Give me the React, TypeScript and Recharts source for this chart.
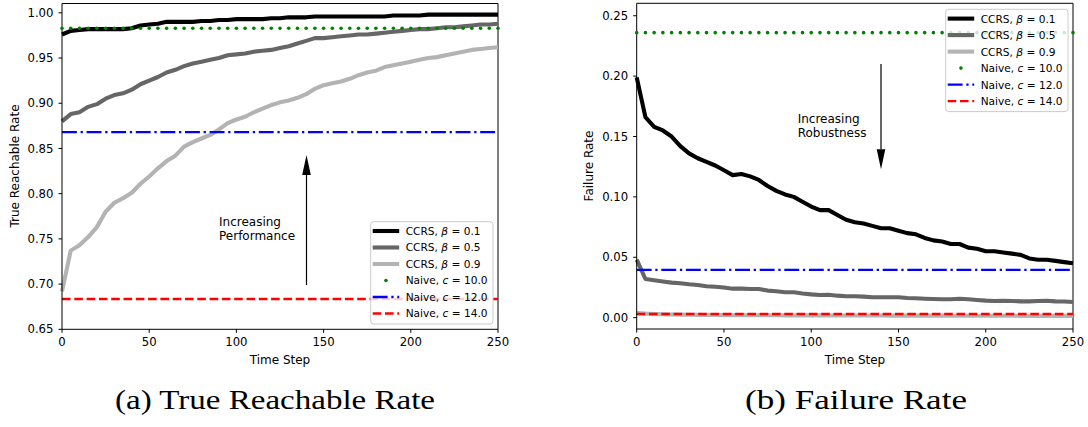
import { LineChart, Line, XAxis, YAxis, ReferenceLine } from "recharts";

const FONT = "'DejaVu Sans', sans-serif";

// time axis, sampled every 5 steps
const timeSteps = [
  0, 5, 10, 15, 20, 25, 30, 35, 40, 45, 50, 55, 60, 65, 70, 75, 80, 85, 90, 95,
  100, 105, 110, 115, 120, 125, 130, 135, 140, 145, 150, 155, 160, 165, 170, 175,
  180, 185, 190, 195, 200, 205, 210, 215, 220, 225, 230, 235, 240, 245, 250,
];
const xTicks = [0, 50, 100, 150, 200, 250];

// (a) true reachable rate
const reachBeta01 = [
  0.976, 0.98, 0.981, 0.982, 0.982, 0.982, 0.982, 0.982, 0.983, 0.986,
  0.987, 0.988, 0.99, 0.99, 0.99, 0.99, 0.991, 0.991, 0.992, 0.992,
  0.993, 0.993, 0.993, 0.993, 0.994, 0.994, 0.995, 0.995, 0.995, 0.996,
  0.996, 0.996, 0.996, 0.996, 0.996, 0.996, 0.996, 0.996, 0.997, 0.997,
  0.997, 0.997, 0.998, 0.998, 0.998, 0.998, 0.998, 0.998, 0.998, 0.998, 0.998,
];
const reachBeta05 = [
  0.88, 0.888, 0.89, 0.896, 0.899, 0.905, 0.909, 0.911, 0.915, 0.921,
  0.925, 0.929, 0.934, 0.937, 0.941, 0.944, 0.946, 0.948, 0.95, 0.953,
  0.954, 0.955, 0.957, 0.958, 0.959, 0.961, 0.963, 0.966, 0.969, 0.972,
  0.972, 0.973, 0.974, 0.975, 0.976, 0.976, 0.977, 0.978, 0.979, 0.98,
  0.981, 0.982, 0.982, 0.983, 0.984, 0.984, 0.985, 0.986, 0.987, 0.987, 0.988,
];
const reachBeta09 = [
  0.692, 0.737, 0.743, 0.752, 0.763, 0.78, 0.79, 0.795, 0.801, 0.811,
  0.819, 0.828, 0.836, 0.842, 0.852, 0.857, 0.861, 0.865, 0.871, 0.878,
  0.882, 0.885, 0.89, 0.894, 0.898, 0.901, 0.903, 0.906, 0.91, 0.916,
  0.92, 0.922, 0.924, 0.927, 0.931, 0.934, 0.936, 0.94, 0.942, 0.944,
  0.946, 0.948, 0.95, 0.951, 0.953, 0.955, 0.957, 0.959, 0.96, 0.961, 0.962,
];
const reachNaive10 = 0.983;
const reachNaive12 = 0.868;
const reachNaive14 = 0.6835;
const reachTicks = [0.65, 0.7, 0.75, 0.8, 0.85, 0.9, 0.95, 1.0];

// (b) failure rate
const failBeta01 = [
  0.199, 0.166, 0.158, 0.155, 0.15, 0.142, 0.136, 0.132, 0.129, 0.126,
  0.122, 0.118, 0.119, 0.117, 0.114, 0.109, 0.105, 0.102, 0.1, 0.096,
  0.092, 0.089, 0.089, 0.085, 0.081, 0.079, 0.078, 0.076, 0.074, 0.074,
  0.072, 0.07, 0.069, 0.066, 0.064, 0.063, 0.061, 0.061, 0.058, 0.057,
  0.055, 0.055, 0.054, 0.053, 0.052, 0.049, 0.048, 0.048, 0.047, 0.046, 0.045,
];
const failBeta05 = [
  0.048, 0.032, 0.031, 0.03, 0.029, 0.0285, 0.0276, 0.027, 0.026, 0.0256,
  0.025, 0.024, 0.024, 0.0237, 0.0237, 0.0224, 0.0218, 0.021, 0.021, 0.02,
  0.0193, 0.0188, 0.019, 0.0182, 0.0177, 0.0177, 0.0174, 0.0169, 0.0169, 0.0169,
  0.0169, 0.0163, 0.016, 0.0157, 0.0155, 0.0152, 0.0152, 0.0157, 0.0152, 0.0146,
  0.0141, 0.0138, 0.014, 0.0138, 0.0135, 0.0135, 0.0138, 0.014, 0.0135, 0.0134, 0.013,
];
const failBeta09 = [
  0.0038, 0.0033, 0.003, 0.0028, 0.0026, 0.0025, 0.0024, 0.0023, 0.0022, 0.0022,
  0.0021, 0.0021, 0.002, 0.002, 0.002, 0.002, 0.002, 0.0019, 0.0019, 0.0019,
  0.0019, 0.0019, 0.0018, 0.0018, 0.0018, 0.0018, 0.0018, 0.0018, 0.0018, 0.0017,
  0.0017, 0.0017, 0.0017, 0.0017, 0.0017, 0.0017, 0.0016, 0.0016, 0.0016, 0.0016,
  0.0016, 0.0016, 0.0016, 0.0016, 0.0015, 0.0015, 0.0015, 0.0015, 0.0015, 0.0015, 0.0015,
];
const failNaive10 = 0.236;
const failNaive12 = 0.0395;
const failNaive14 = 0.003;
const failTicks = [0, 0.05, 0.1, 0.15, 0.2, 0.25];

const series = [
  { key: "b01", name: "CCRS, ", sym: "β", val: "0.1", color: "#000000", kind: "solid" },
  { key: "b05", name: "CCRS, ", sym: "β", val: "0.5", color: "#666666", kind: "solid" },
  { key: "b09", name: "CCRS, ", sym: "β", val: "0.9", color: "#b3b3b3", kind: "solid" },
  { key: "n10", name: "Naive, ", sym: "c", val: "10.0", color: "#008000", kind: "dots" },
  { key: "n12", name: "Naive, ", sym: "c", val: "12.0", color: "#0000ff", kind: "dashdot" },
  { key: "n14", name: "Naive, ", sym: "c", val: "14.0", color: "#ff0000", kind: "dashed" },
];

const dashFor: Record<string, string | undefined> = {
  solid: undefined,
  dots: undefined,
  dashdot: "14.9 3.7 2.3 3.7",
  dashed: "8.6 3.7",
};

function buildRows(b01: number[], b05: number[], b09: number[], n10: number, n12: number, n14: number) {
  return timeSteps.map((t, i) => ({ t, b01: b01[i], b05: b05[i], b09: b09[i], n10, n12, n14 }));
}

const reachRows = buildRows(reachBeta01, reachBeta05, reachBeta09, reachNaive10, reachNaive12, reachNaive14);
const failRows = buildRows(failBeta01, failBeta05, failBeta09, failNaive10, failNaive12, failNaive14);

const tickStyle = { fill: "#000", fontSize: 11.7, fontFamily: FONT };

function Panel(props: {
  rows: any[];
  left: number;
  width: number;
  yWidth: number;
  top: number;
  right: number;
  xHeight: number;
  domain: [number, number];
  ticks: number[];
}) {
  const { rows, left, width, yWidth, top, right, xHeight, domain, ticks } = props;
  return (
    <div style={{ position: "absolute", left, top: 0 }}>
      <LineChart width={width} height={380} data={rows} margin={{ top, right, left: 0, bottom: 0 }}>
        <XAxis
          dataKey="t"
          type="number"
          domain={[0, 250]}
          ticks={xTicks}
          height={xHeight}
          stroke="#000"
          tick={tickStyle}
          tickSize={3.5}
          tickMargin={5}
        />
        <YAxis
          type="number"
          domain={domain}
          ticks={ticks}
          allowDataOverflow
          width={yWidth}
          stroke="#000"
          tick={tickStyle}
          tickSize={3.5}
          tickMargin={5}
          tickFormatter={(v: number) => v.toFixed(2)}
        />
        <ReferenceLine y={domain[1]} stroke="#000" strokeWidth={1} />
        <ReferenceLine x={250} stroke="#000" strokeWidth={1} />
        {series.map((s) =>
          s.kind === "dots" ? (
            <Line
              key={s.key}
              dataKey={s.key}
              stroke="none"
              dot={{ r: 1.8, fill: s.color, stroke: "none" }}
              activeDot={false}
              isAnimationActive={false}
            />
          ) : (
            <Line
              key={s.key}
              dataKey={s.key}
              type="linear"
              stroke={s.color}
              strokeWidth={s.kind === "solid" ? 4.1 : 2.33}
              strokeDasharray={dashFor[s.kind]}
              strokeLinejoin="round"
              dot={false}
              activeDot={false}
              isAnimationActive={false}
            />
          )
        )}
      </LineChart>
    </div>
  );
}

function LegendBox({ x, y }: { x: number; y: number }) {
  return (
    <g>
      <rect x={x} y={y} width={122.3} height={102.3} rx={3} fill="#fff" fillOpacity={0.8} stroke="#cccccc" strokeWidth={1} />
      {series.map((s, i) => {
        const cy = y + 9.3 + i * 16.5;
        const hx0 = x + 2;
        const hx1 = x + 28.5;
        let handle;
        if (s.kind === "dots") {
          handle = <circle cx={(hx0 + hx1) / 2} cy={cy} r={1.8} fill={s.color} />;
        } else {
          handle = (
            <line
              x1={hx0}
              x2={hx1}
              y1={cy}
              y2={cy}
              stroke={s.color}
              strokeWidth={s.kind === "solid" ? 4.1 : 2.33}
              strokeDasharray={dashFor[s.kind]}
            />
          );
        }
        return (
          <g key={s.key}>
            {handle}
            <text x={x + 35} y={cy + 3.9} fontSize={10.6} fontFamily={FONT} fill="#000">
              <tspan>{s.name}</tspan>
              <tspan fontStyle="italic">{s.sym}</tspan>
              <tspan>{" = " + s.val}</tspan>
            </text>
          </g>
        );
      })}
    </g>
  );
}

function Arrow({ x, tail, tip }: { x: number; tail: number; tip: number }) {
  const dir = tip < tail ? 1 : -1;
  const base = tip + dir * 20;
  return (
    <g>
      <line x1={x} x2={x} y1={tail} y2={base} stroke="#000" strokeWidth={1.2} />
      <polygon points={`${x},${tip} ${x - 4.3},${base} ${x + 4.3},${base}`} fill="#000" />
    </g>
  );
}

export default function App() {
  const labelStyle = { fontSize: 12, fontFamily: FONT, fill: "#000" };
  const captionStyle = { fontSize: 28, fontFamily: "'Liberation Serif', serif", fill: "#000" };
  return (
    <div style={{ position: "absolute", left: 0, top: 0, width: 1088, height: 427, background: "#fff" }}>
      <Panel rows={reachRows} left={0} width={520} yWidth={62} top={3.5} right={22} xHeight={50.7} domain={[0.65, 1.0103]} ticks={reachTicks} />
      <Panel rows={failRows} left={570} width={518} yWidth={66.7} top={3.3} right={15} xHeight={51} domain={[-0.0094, 0.2603]} ticks={failTicks} />
      <svg width={1088} height={427} style={{ position: "absolute", left: 0, top: 0, pointerEvents: "none" }}>
        {/* axis titles */}
        <text x={280} y={364} textAnchor="middle" {...labelStyle}>Time Step</text>
        <text x={855} y={364} textAnchor="middle" {...labelStyle}>Time Step</text>
        <text x={19} y={166} textAnchor="middle" transform="rotate(-90 19 166)" {...labelStyle}>True Reachable Rate</text>
        <text x={593} y={166} textAnchor="middle" transform="rotate(-90 593 166)" {...labelStyle}>Failure Rate</text>

        {/* annotations */}
        <Arrow x={306.5} tail={285} tip={155} />
        <text x={219} y={226} {...labelStyle}>Increasing</text>
        <text x={219} y={239.5} {...labelStyle}>Performance</text>
        <Arrow x={881} tail={64} tip={169.3} />
        <text x={797.7} y={123.3} {...labelStyle}>Increasing</text>
        <text x={797.7} y={136.8} {...labelStyle}>Robustness</text>

        <LegendBox x={370.7} y={221.7} />
        <LegendBox x={945.7} y={9.3} />

        {/* sub-captions */}
        <text x={115} y={409} textLength={320} lengthAdjust="spacingAndGlyphs" {...captionStyle}>(a) True Reachable Rate</text>
        <text x={745} y={409} textLength={222} lengthAdjust="spacingAndGlyphs" {...captionStyle}>(b) Failure Rate</text>
      </svg>
    </div>
  );
}
